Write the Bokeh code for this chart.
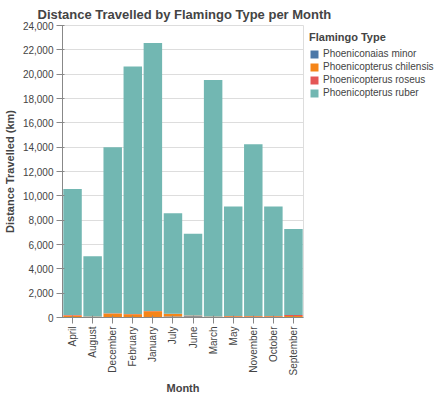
import math
from bokeh.plotting import figure
from bokeh.models import ColumnDataSource, NumeralTickFormatter, Legend
from bokeh.embed import file_html
from bokeh.resources import INLINE

months = ["April", "August", "December", "February", "January", "July",
          "June", "March", "May", "November", "October", "September"]
minor = [20, 10, 20, 20, 20, 80, 100, 10, 10, 10, 30, 20]
chilensis = [150, 50, 300, 250, 500, 200, 50, 50, 100, 100, 80, 100]
roseus = [30, 30, 20, 20, 20, 20, 20, 30, 20, 20, 20, 80]
ruber = [10360, 4950, 13660, 20350, 22020, 8260, 6710, 19430, 8990, 14110, 8990, 7080]

types = ["Phoeniconaias minor", "Phoenicopterus chilensis",
         "Phoenicopterus roseus", "Phoenicopterus ruber"]
colors = ["#4c78a8", "#f58518", "#e45756", "#72b7b2"]

source = ColumnDataSource(dict(month=months, minor=minor, chilensis=chilensis,
                               roseus=roseus, ruber=ruber))

p = figure(x_range=months, y_range=(0, 24000), frame_width=241, frame_height=292,
           output_backend="svg", toolbar_location=None,
           title="Distance Travelled by Flamingo Type per Month")
p.min_border_left = 2
p.min_border_top = 4
p.min_border_right = 4
p.title.text_font = "Liberation Sans"
p.title.text_font_size = "13px"
p.title.text_font_style = "bold"
p.title.offset = -25
p.title.standoff = 8

r = p.vbar_stack(["minor", "chilensis", "roseus", "ruber"], x="month", width=0.92,
                 color=colors, line_color=None, source=source)

legend = Legend(items=[(t, [g]) for t, g in zip(types, r)], location="top_left",
                title="Flamingo Type")
legend.title_text_font_style = "bold"
legend.title_text_font_size = "11px"
legend.title_text_font = "Liberation Sans"
legend.label_text_font = "Liberation Sans"
legend.label_text_font_size = "10px"
legend.glyph_width = 10
legend.glyph_height = 10
legend.label_height = 10
legend.label_standoff = 4
legend.spacing = 2
legend.padding = 0
legend.margin = 6
legend.border_line_color = None
p.add_layout(legend, "right")

p.yaxis.formatter = NumeralTickFormatter(format="0,0")
p.yaxis.axis_label = "Distance Travelled (km)"
p.xaxis.axis_label = "Month"
for ax in (p.xaxis, p.yaxis):
    ax.axis_label_text_font = "Liberation Sans"
    ax.axis_label_text_font_style = "bold"
    ax.axis_label_text_font_size = "11px"
    ax.major_label_text_font = "Liberation Sans"
    ax.major_label_text_font_size = "10px"
    ax.minor_tick_line_color = None
    ax.axis_line_color = "#888888"
    ax.major_tick_line_color = "#888888"
    ax.axis_label_standoff = 4
    ax.major_label_standoff = 3
p.xaxis.major_label_orientation = math.pi / 2
p.yaxis.ticker.desired_num_ticks = 12
p.xgrid.grid_line_color = None
p.ygrid.grid_line_color = "#dddddd"
p.outline_line_color = "#dddddd"
p.x_range.range_padding = 0.0

open("out.html", "w").write(file_html(p, INLINE))
